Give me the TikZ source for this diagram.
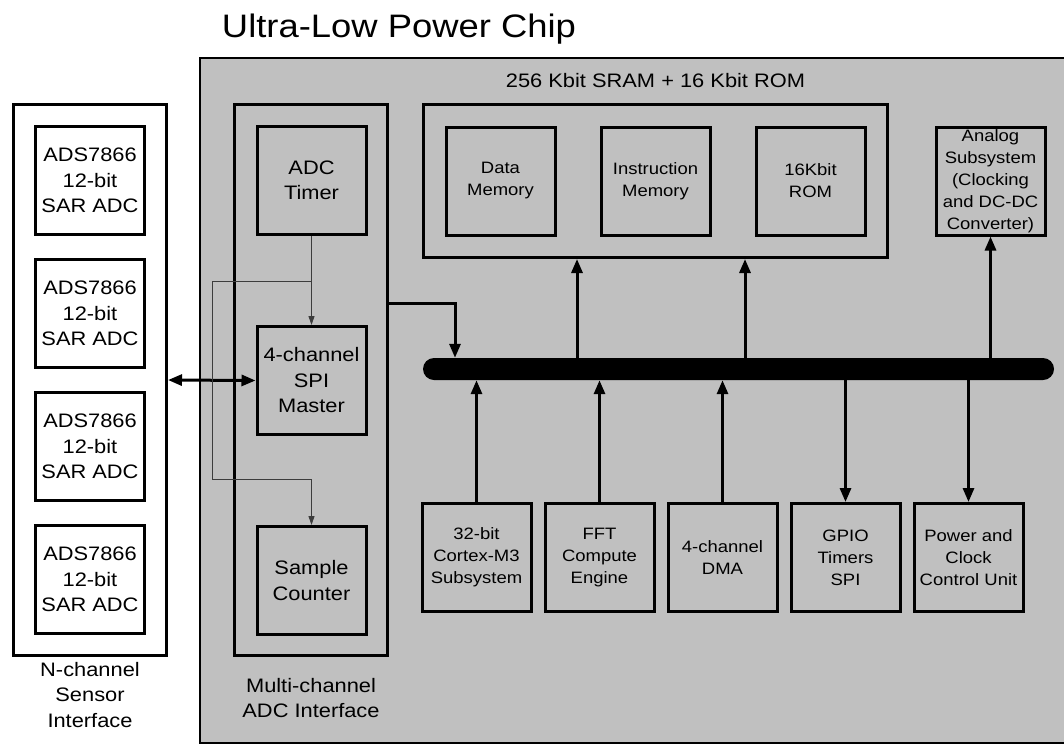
\documentclass[tikz,border=0pt]{standalone}
\usepackage{fontspec}
\setmainfont{Liberation Sans}[FakeStretch=1.12]
\usepackage{xcolor}
\usepackage{tikz}
\usetikzlibrary{arrows.meta, positioning}

\definecolor{chipgray}{RGB}{192,192,192}
\definecolor{wiregray}{RGB}{60,60,60}
\newcommand{\bigtxt}{\fontsize{19.5}{25.5}\selectfont}
\newcommand{\smalltxt}{\fontsize{16.5}{22}\selectfont}

\begin{document}
\begin{tikzpicture}[
    x=1pt, y=-1pt,
    node distance=22pt,
    blk/.style={rectangle, draw=black, line width=3pt, minimum width=109pt, minimum height=108pt, inner sep=0pt, align=center, font=\bigtxt},
    sblk/.style={blk, font=\smalltxt},
    frame/.style={rectangle, draw=black, line width=3pt, minimum width=153pt, minimum height=551pt, inner sep=0pt},
    lbl/.style={inner sep=0pt, align=center, font=\bigtxt},
    bus/.style={rectangle, rounded corners=11pt, fill=black, minimum width=631pt, minimum height=22pt, inner sep=0pt},
    arrow/.style={-{Triangle[length=14pt, width=11pt]}, line width=3pt},
    dblarrow/.style={{Triangle[length=14pt, width=11pt]}-{Triangle[length=14pt, width=11pt]}, line width=3pt},
    wire/.style={-{Triangle[length=9pt, width=6pt]}, line width=1pt, draw=wiregray}
]
\useasboundingbox (0,0) rectangle (1064,744);

% chip background
\draw[line width=2pt, fill=chipgray] (200,58) rectangle (1080,743);
\node[inner sep=0pt, font=\fontsize{32.5}{38}\selectfont, anchor=base] (title) at (399,37) {Ultra-Low Power Chip};

% sensor interface
\node[frame, fill=white] (sens) at (90,380) {};
\node[blk] (adc1) at (90,180.5) {ADS7866\\12-bit\\SAR ADC};
\node[blk, below=of adc1] (adc2) {ADS7866\\12-bit\\SAR ADC};
\node[blk, below=of adc2] (adc3) {ADS7866\\12-bit\\SAR ADC};
\node[blk, below=of adc3] (adc4) {ADS7866\\12-bit\\SAR ADC};
\node[lbl, below=5pt of sens] (sensLbl) {N-channel\\Sensor\\Interface};

% multi-channel ADC interface
\node[frame] (adcif) at (311,380) {};
\node[blk] (timer) at (311.5,180.5) {ADC\\Timer};
\node[blk, below=89pt of timer] (spi) {4-channel\\SPI\\Master};
\node[blk, below=89pt of spi] (cnt) {Sample\\Counter};
\node[lbl, below=21pt of adcif] (adcifLbl) {Multi-channel\\ADC Interface};

% memory
\node[frame, minimum width=464pt, minimum height=153pt] (mem) at (655.5,181) {};
\node[sblk] (dmem) at (500.5,181) {Data\\Memory};
\node[sblk, right=43pt of dmem] (imem) {Instruction\\Memory};
\node[sblk, right=43pt of imem] (rom) {16Kbit\\ROM};
\node[lbl, above=15pt of mem] (memLbl) {256 Kbit SRAM + 16 Kbit ROM};
\node[sblk] (ana) at (990.5,181) {Analog\\Subsystem\\(Clocking\\and DC-DC\\Converter)};

% bus and peripherals
\node[bus] (bus) at (738.5,369) {};
\node[sblk] (cpu) at (476.5,557.5) {32-bit\\Cortex-M3\\Subsystem};
\node[sblk, right=11pt of cpu] (fft) {FFT\\Compute\\Engine};
\node[sblk, right=11pt of fft] (dma) {4-channel\\DMA};
\node[sblk, right=11pt of dma] (gpio) {GPIO\\Timers\\SPI};
\node[sblk, right=11pt of gpio] (pcu) {Power and\\Clock\\Control Unit};

\coordinate (memtapA) at (577,0);
\coordinate (memtapB) at (745,0);
\coordinate (busin) at (455,303);
\coordinate (split) at (311.5,281);
\coordinate (detour) at (212,479);

% connections
\draw[arrow] (bus.north -| memtapA) -- (mem.south -| memtapA);
\draw[arrow] (bus.north -| memtapB) -- (mem.south -| memtapB);
\draw[arrow] (bus.north -| ana) -- (ana.south);
\draw[arrow] (adcif.east |- busin) -| (bus.north -| busin);
\draw[arrow] (cpu.north) -- (bus.south -| cpu);
\draw[arrow] (fft.north) -- (bus.south -| fft);
\draw[arrow] (dma.north) -- (bus.south -| dma);
\draw[arrow] (bus.south -| gpio) -- (gpio.north);
\draw[arrow] (bus.south -| pcu) -- (pcu.north);
\draw[dblarrow] (sens.east) -- (spi.west);

\draw[wire] (timer.south) -- (spi.north);
\draw[wire] (split) -| (detour) -| (cnt.north);
\end{tikzpicture}
\end{document}
